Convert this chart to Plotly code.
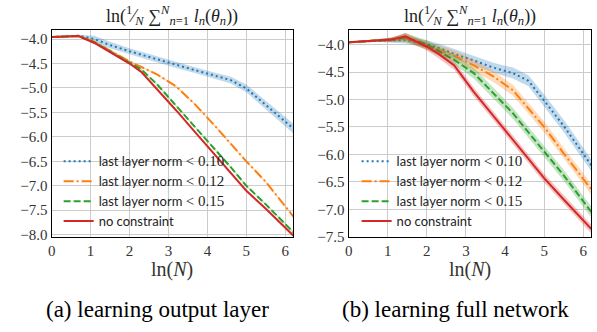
import plotly.graph_objects as go

# ---------------- data ----------------
x_lnN = [0, 0.69, 1.1, 1.45, 2.0, 2.3, 2.7, 3.2, 3.7, 4.2, 4.6, 5.0, 5.5, 6.21]

# (a) learning output layer
a_blue = [-3.96, -3.93, -4.00, -4.11, -4.25, -4.32, -4.42, -4.53, -4.64, -4.75, -4.84, -5.01, -5.35, -5.83]
a_orange = [-3.96, -3.94, -4.06, -4.22, -4.46, -4.57, -4.72, -4.97, -5.35, -5.78, -6.15, -6.50, -6.92, -7.63]
a_green = [-3.96, -3.94, -4.07, -4.23, -4.48, -4.62, -4.92, -5.37, -5.81, -6.25, -6.62, -7.00, -7.38, -7.95]
a_red = [-3.96, -3.94, -4.08, -4.24, -4.50, -4.67, -5.02, -5.46, -5.92, -6.37, -6.73, -7.10, -7.47, -8.02]
a_blue_sd = [0.01, 0.02, 0.07, 0.07, 0.06, 0.06, 0.06, 0.06, 0.06, 0.06, 0.07, 0.08, 0.09, 0.10]
a_orange_sd = [0.01, 0.02, 0.03, 0.03, 0.03, 0.02, 0.02, 0.02, 0.02, 0.02, 0.02, 0.02, 0.02, 0.02]
a_green_sd = [0.01, 0.02, 0.03, 0.03, 0.03, 0.02, 0.02, 0.02, 0.02, 0.02, 0.02, 0.02, 0.02, 0.02]
a_red_sd = [0.01, 0.01, 0.02, 0.02, 0.02, 0.01, 0.01, 0.01, 0.01, 0.01, 0.01, 0.01, 0.01, 0.01]

# (b) learning full network
b_blue = [-3.96, -3.93, -3.92, -3.92, -3.99, -4.06, -4.17, -4.29, -4.42, -4.52, -4.66, -5.02, -5.48, -6.20]
b_orange = [-3.96, -3.93, -3.91, -3.88, -4.02, -4.10, -4.20, -4.38, -4.58, -4.83, -5.16, -5.50, -5.98, -6.64]
b_green = [-3.96, -3.93, -3.91, -3.87, -4.00, -4.12, -4.28, -4.52, -4.88, -5.25, -5.60, -5.95, -6.38, -7.05]
b_red = [-3.96, -3.93, -3.91, -3.85, -4.04, -4.17, -4.38, -4.86, -5.30, -5.73, -6.08, -6.43, -6.82, -7.36]
b_blue_sd = [0.01, 0.02, 0.04, 0.06, 0.07, 0.08, 0.09, 0.09, 0.09, 0.10, 0.10, 0.11, 0.11, 0.11]
b_orange_sd = [0.01, 0.02, 0.04, 0.07, 0.08, 0.09, 0.09, 0.10, 0.10, 0.10, 0.10, 0.10, 0.10, 0.10]
b_green_sd = [0.01, 0.02, 0.04, 0.08, 0.08, 0.09, 0.09, 0.10, 0.10, 0.10, 0.10, 0.10, 0.10, 0.10]
b_red_sd = [0.01, 0.02, 0.04, 0.06, 0.07, 0.08, 0.08, 0.08, 0.08, 0.08, 0.08, 0.08, 0.08, 0.08]

labels = ["0.10", "0.12", "0.15", None]
x_ticks = [0, 1, 2, 3, 4, 5, 6]

# ---------------- styling ----------------
W, H = 597, 332
SERIF = "Liberation Serif"
SANS = "Lato"
colors = ["#1f77b4", "#ff7f0e", "#2ca02c", "#d62728"]
bands = ["rgba(31,119,180,0.28)", "rgba(255,127,14,0.28)",
         "rgba(44,160,44,0.28)", "rgba(214,39,40,0.28)"]
dashes = ["2px,3px", "10px,3px,2px,3px", "7px,3px", "solid"]


def legend_name(lab):
    if lab is None:
        return "no constraint"
    return ('last layer norm <span style="font-family:%s;font-size:15px">&lt; %s</span>'
            % (SERIF, lab))


fig = go.Figure()

panels = [
    ("x", "y", "legend", [a_blue, a_orange, a_green, a_red],
     [a_blue_sd, a_orange_sd, a_green_sd, a_red_sd]),
    ("x2", "y2", "legend2", [b_blue, b_orange, b_green, b_red],
     [b_blue_sd, b_orange_sd, b_green_sd, b_red_sd]),
]

for xa, ya, leg, series, sds in panels:
    for i, (ys, sd) in enumerate(zip(series, sds)):
        upper = [v + s for v, s in zip(ys, sd)]
        lower = [v - s for v, s in zip(ys, sd)]
        fig.add_trace(go.Scatter(
            x=x_lnN + x_lnN[::-1], y=upper + lower[::-1],
            fill="toself", fillcolor=bands[i], line=dict(width=0),
            mode="lines", hoverinfo="skip", showlegend=False,
            xaxis=xa, yaxis=ya))
        fig.add_trace(go.Scatter(
            x=x_lnN, y=ys, mode="lines",
            line=dict(color=colors[i], width=2, dash=dashes[i]),
            name=legend_name(labels[i]), legend=leg,
            xaxis=xa, yaxis=ya))

grid = "#cccccc"
common_x = dict(range=[0, 6.2], tickvals=x_ticks, showgrid=True, gridcolor=grid,
                gridwidth=1.4, zeroline=False, showline=True, linecolor="black",
                linewidth=1.2, mirror=True, ticks="",
                tickfont=dict(family=SERIF, size=15, color="#333"))
common_y = dict(dtick=0.5, tickformat=".1f", showgrid=True, gridcolor=grid,
                gridwidth=1.4, zeroline=False, showline=True, linecolor="black",
                linewidth=1.2, mirror=True, ticks="",
                tickfont=dict(family=SERIF, size=15, color="#333"))

ydom = [1 - 243 / H, 1 - 31 / H]
fig.update_layout(
    width=W, height=H, margin=dict(l=0, r=0, t=0, b=0),
    paper_bgcolor="white", plot_bgcolor="white",
    xaxis=dict(domain=[48 / W, 291 / W], anchor="y", **common_x),
    yaxis=dict(domain=ydom, anchor="x", range=[-8.05, -3.82], **common_y),
    xaxis2=dict(domain=[347 / W, 591 / W], anchor="y2", **common_x),
    yaxis2=dict(domain=ydom, anchor="x2", range=[-7.505, -3.74], **common_y),
    legend=dict(x=55 / W, y=1 - 150 / H, xanchor="left", yanchor="top",
                bgcolor="rgba(0,0,0,0)", borderwidth=0,
                font=dict(family=SANS, size=13, color="#222"),
                tracegroupgap=0),
    legend2=dict(x=355 / W, y=1 - 150 / H, xanchor="left", yanchor="top",
                 bgcolor="rgba(0,0,0,0)", borderwidth=0,
                 font=dict(family=SANS, size=13, color="#222"),
                 tracegroupgap=0),
)

title_txt = ("ln(<sup>1</sup>&#8260;<sub><i>N</i></sub> &#8721;<sup><i>N</i></sup><sub><i>n</i>=1</sub>"
             " <i>l<sub>n</sub></i>(<i>θ<sub>n</sub></i>))")
annots = []
for cx in [(48 + 291) / 2, (347 + 591) / 2]:
    annots.append(dict(text=title_txt, x=cx / W, y=1 - 16 / H, xref="paper", yref="paper",
                       xanchor="center", yanchor="middle", showarrow=False,
                       font=dict(family=SERIF, size=18, color="#222")))
    annots.append(dict(text="ln(<i>N</i>)", x=cx / W, y=1 - 276 / H, xref="paper", yref="paper",
                       xanchor="center", yanchor="middle", showarrow=False,
                       font=dict(family=SERIF, size=20, color="#333")))
annots.append(dict(text="(a) learning output layer", x=155 / W, y=1 - 317 / H,
                   xref="paper", yref="paper", xanchor="center", yanchor="middle",
                   showarrow=False, font=dict(family=SERIF, size=23, color="black")))
annots.append(dict(text="(b) learning full network", x=455 / W, y=1 - 317 / H,
                   xref="paper", yref="paper", xanchor="center", yanchor="middle",
                   showarrow=False, font=dict(family=SERIF, size=23, color="black")))
fig.update_layout(annotations=annots)

fig.write_html("out.html", config={"displayModeBar": False},
               post_script="document.body.style.margin='0px';document.body.style.padding='0px';")
